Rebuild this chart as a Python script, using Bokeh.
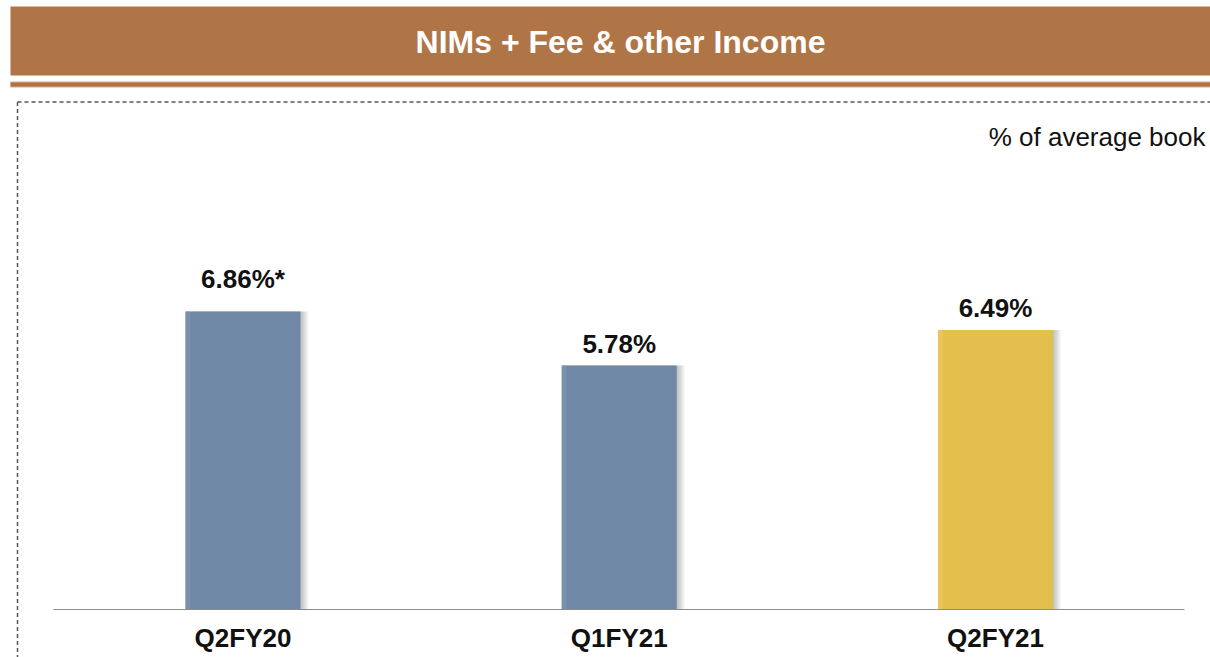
from bokeh.plotting import figure
from bokeh.models import Range1d, ColumnDataSource
from bokeh.transform import dodge
from bokeh.core.properties import value
from bokeh.embed import file_html
from bokeh.resources import INLINE

# ---------------- data ----------------
CATEGORIES = ["Q2FY20", "Q1FY21", "Q2FY21"]
VALUES = [6.86, 5.78, 6.49]
VALUE_LABELS = ["6.86%*", "5.78%", "6.49%"]
TITLE = "NIMs + Fee & other Income"
SUBTITLE = "% of average book"

# ---------------- styles ----------------
BAR_COLORS = ["#6F88A6", "#6F88A6", "#E3BF4E"]
EDGE_COLORS = ["#7D96B4", "#7D96B4", "#EFCB5C"]
LABEL_EXTRA_RAISE = [11, 0, 0]  # px, label placement tweak
FONT = "Liberation Sans"
BROWN = "#B07546"
TEXT_SHIFT = 10  # px correction for text baseline placement

# ---------------- layout (page pixels) ----------------
W, H = 1210, 657
PAGE_X0, PAGE_Y0 = 0, 0
Y_MIN = 0.9            # value at the category axis line
BASE_Y = 609           # page y of the axis line
PX_PER_UNIT = 50.0
X_FIRST = 242.5        # page x of first bar centre
STEP = 376.25          # px between bar centres
BAR_PX = 115

p = figure(width=W, height=H, output_backend="svg", toolbar_location=None,
           x_range=Range1d(PAGE_X0, PAGE_X0 + W),
           y_range=Range1d(PAGE_Y0 + H, PAGE_Y0),
           x_axis_location=None, y_axis_location=None,
           min_border=0, outline_line_color=None)
p.xgrid.visible = False
p.ygrid.visible = False
p.background_fill_color = "white"
p.border_fill_color = "white"

p.extra_x_ranges = {"cat": Range1d((PAGE_X0 - X_FIRST) / STEP,
                                   (PAGE_X0 + W - X_FIRST) / STEP)}
p.extra_y_ranges = {"val": Range1d(Y_MIN - (PAGE_Y0 + H - BASE_Y) / PX_PER_UNIT,
                                   Y_MIN + (BASE_Y - PAGE_Y0) / PX_PER_UNIT)}

# ---------------- header ----------------
p.quad(left=10, right=1210, top=6, bottom=75, fill_color=BROWN, line_color=None)
p.quad(left=10, right=1210, top=81.5, bottom=86.5, fill_color=BROWN,
       line_color="#D2B08E", line_width=1)
p.text(x=[620], y=[51.5 - TEXT_SHIFT], text=[TITLE], text_font=value(FONT),
       text_font_style="bold", text_font_size="32px", text_color="white",
       text_align="center", text_baseline="alphabetic")

# dashed frame
p.segment(x0=[17, 17], y0=[101.5, 101.5], x1=[1210, 17], y1=[101.5, 657],
          line_color="#555555", line_width=1.5, line_dash="4 3")

# subtitle
p.text(x=[1205], y=[146 - TEXT_SHIFT], text=[SUBTITLE], text_font=value(FONT),
       text_font_size="26px", text_color="#111111", text_align="right",
       text_baseline="alphabetic")

# ---------------- bars ----------------
bw = BAR_PX / STEP
src = ColumnDataSource(dict(
    x=list(range(len(CATEGORIES))),
    top=VALUES,
    color=BAR_COLORS,
    edge=EDGE_COLORS,
    cat=CATEGORIES,
    label=VALUE_LABELS,
    label_y=[v + (12 + TEXT_SHIFT + r) / PX_PER_UNIT
             for v, r in zip(VALUES, LABEL_EXTRA_RAISE)],
))

# soft shadow on the right
for k in range(1, 9):
    p.vbar(x=dodge("x", k * 1.0 / STEP), top="top", bottom=Y_MIN, width=bw, source=src,
           fill_color="#000000", fill_alpha=0.03, line_color=None,
           x_range_name="cat", y_range_name="val")

p.vbar(x="x", top="top", bottom=Y_MIN, width=bw, source=src,
       fill_color="color", line_color=None, x_range_name="cat", y_range_name="val")
# lighter left edge
p.vbar(x=dodge("x", -bw / 2 + 2.5 / STEP), top="top", bottom=Y_MIN, width=5 / STEP,
       source=src, fill_color="edge", fill_alpha=0.7, line_color=None,
       x_range_name="cat", y_range_name="val")

# category axis line
p.segment(x0=[53], y0=[Y_MIN], x1=[1184], y1=[Y_MIN], line_color="#8C8C8C",
          line_width=1.2, y_range_name="val")

# value labels
p.text(x="x", y="label_y", text="label", source=src, text_font=value(FONT),
       text_font_style="bold", text_font_size="26px", text_color="#111111",
       text_align="center", text_baseline="alphabetic",
       x_range_name="cat", y_range_name="val")

# category labels
p.text(x="x", y=647 - TEXT_SHIFT, text="cat", source=src, text_font=value(FONT),
       text_font_style="bold", text_font_size="26px", text_color="#111111",
       text_align="center", text_baseline="alphabetic", x_range_name="cat")

open("out.html", "w").write(file_html(p, INLINE))
